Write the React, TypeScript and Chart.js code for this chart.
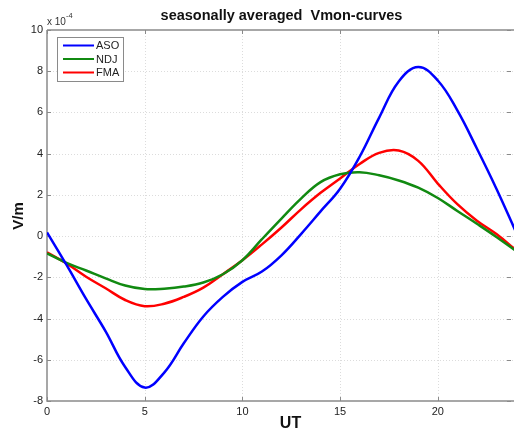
import React, { useEffect, useRef } from "react";
import { Chart, registerables } from "chart.js";

Chart.register(...registerables);

const hours = [0, 1, 2, 3, 4, 5, 6, 7, 8, 9, 10, 11, 12, 13, 14, 15, 16, 17, 18, 19, 20, 21, 22, 23, 24];
const aso = [0.18, -1.4, -3.05, -4.62, -6.35, -7.35, -6.62, -5.2, -3.9, -2.95, -2.22, -1.72, -0.93, 0.1, 1.2, 2.3, 3.85, 5.75, 7.5, 8.2, 7.55, 6.1, 4.25, 2.3, 0.2];
const ndj = [-0.84, -1.3, -1.67, -2.05, -2.4, -2.57, -2.55, -2.45, -2.25, -1.85, -1.17, -0.15, 0.85, 1.82, 2.62, 3.0, 3.1, 2.95, 2.7, 2.35, 1.85, 1.22, 0.6, -0.04, -0.72];
const fma = [-0.79, -1.33, -1.97, -2.53, -3.1, -3.4, -3.28, -2.95, -2.5, -1.85, -1.17, -0.4, 0.42, 1.3, 2.1, 2.8, 3.5, 4.04, 4.15, 3.65, 2.55, 1.55, 0.75, 0.1, -0.68];
const seriesNames = ["ASO", "NDJ", "FMA"];
const seriesColors = ["#0000ff", "#118a11", "#ff0000"];
const xTicks = [0, 5, 10, 15, 20];
const yTicks = [-8, -6, -4, -2, 0, 2, 4, 6, 8, 10];
const titleText = "seasonally averaged  Vmon-curves";
const xTitle = "UT";
const yTitle = "V/m";

const FONT = "'Liberation Sans', Arial, sans-serif";

const framePlugin = {
  id: "framePlugin",
  beforeDatasetsDraw(chart: any) {
    const { ctx, chartArea } = chart;
    const xs = chart.scales.x;
    const ys = chart.scales.y;
    const { left, right, top, bottom } = chartArea;
    ctx.save();
    ctx.strokeStyle = "#dcdcdc";
    ctx.lineWidth = 1;
    ctx.setLineDash([1, 2]);
    xTicks.forEach((t) => {
      if (t === 0) return;
      const px = Math.round(xs.getPixelForValue(t)) + 0.5;
      ctx.beginPath();
      ctx.moveTo(px, top);
      ctx.lineTo(px, bottom);
      ctx.stroke();
    });
    yTicks.forEach((t) => {
      if (t === -8 || t === 10) return;
      const py = Math.round(ys.getPixelForValue(t)) + 0.5;
      ctx.beginPath();
      ctx.moveTo(left, py);
      ctx.lineTo(right, py);
      ctx.stroke();
    });
    ctx.setLineDash([]);
    ctx.strokeStyle = "#8a8a8a";
    ctx.lineWidth = 1.5;
    ctx.beginPath();
    ctx.moveTo(left, top);
    ctx.lineTo(right, top);
    ctx.moveTo(left, top);
    ctx.lineTo(left, bottom);
    ctx.lineTo(right, bottom);
    ctx.stroke();
    ctx.lineWidth = 1;
    const tl = 4;
    xTicks.forEach((t) => {
      const px = Math.round(xs.getPixelForValue(t)) + 0.5;
      ctx.beginPath();
      ctx.moveTo(px, bottom);
      ctx.lineTo(px, bottom - tl);
      ctx.moveTo(px, top);
      ctx.lineTo(px, top + tl);
      ctx.stroke();
    });
    yTicks.forEach((t) => {
      const py = Math.round(ys.getPixelForValue(t)) + 0.5;
      ctx.beginPath();
      ctx.moveTo(left, py);
      ctx.lineTo(left + tl, py);
      ctx.moveTo(right - 3, py);
      ctx.lineTo(right - 3 - tl, py);
      ctx.stroke();
    });
    ctx.restore();
  },
  afterDraw(chart: any) {
    const { ctx, chartArea } = chart;
    const { left, right } = chartArea;
    ctx.save();
    ctx.fillStyle = "#111";
    ctx.font = `bold 14.5px ${FONT}`;
    ctx.textAlign = "center";
    ctx.textBaseline = "middle";
    ctx.fillText(titleText, (left + right) / 2 + 1, 16);
    ctx.font = `10px ${FONT}`;
    ctx.textAlign = "left";
    ctx.fillStyle = "#333";
    ctx.fillText("x 10", left, 22);
    ctx.font = `7.5px ${FONT}`;
    ctx.fillText("-4", left + 19, 16);
    ctx.fillStyle = "#111";
    ctx.font = `bold 16px ${FONT}`;
    ctx.textAlign = "center";
    ctx.fillText(xTitle, (left + right) / 2 + 10, 424);
    ctx.save();
    ctx.translate(19, 216);
    ctx.rotate(-Math.PI / 2);
    ctx.font = `bold 15px ${FONT}`;
    ctx.fillText(yTitle, 0, 0);
    ctx.restore();
    const bx = 57, by = 37, bw = 66, bh = 44;
    ctx.fillStyle = "#ffffff";
    ctx.fillRect(bx, by, bw, bh);
    ctx.strokeStyle = "#8a8a8a";
    ctx.lineWidth = 1;
    ctx.strokeRect(bx + 0.5, by + 0.5, bw, bh);
    ctx.font = `11px ${FONT}`;
    ctx.textAlign = "left";
    chart.data.datasets.forEach((ds: any, i: number) => {
      const y = by + 8.5 + i * 13.5;
      ctx.strokeStyle = ds.borderColor;
      ctx.lineWidth = 2;
      ctx.beginPath();
      ctx.moveTo(63, y);
      ctx.lineTo(94, y);
      ctx.stroke();
      ctx.fillStyle = "#222";
      ctx.fillText(ds.label, 96, y + 0.5);
    });
    ctx.restore();
  },
};

export default function App() {
  const ref = useRef<HTMLCanvasElement | null>(null);
  useEffect(() => {
    if (!ref.current) return;
    const series = [aso, ndj, fma];
    const chart = new Chart(ref.current, {
      type: "line",
      data: {
        datasets: series.map((s, i) => ({
          label: seriesNames[i],
          data: hours.map((h, j) => ({ x: h, y: s[j] })),
          borderColor: seriesColors[i],
          backgroundColor: seriesColors[i],
          borderWidth: 2.5,
          pointRadius: 0,
          tension: 0.4,
          fill: false,
        })),
      },
      options: {
        responsive: false,
        animation: false,
        devicePixelRatio: 1,
        layout: { padding: { top: 30, left: 0, right: 0, bottom: 0 } },
        plugins: {
          legend: { display: false },
          title: { display: false },
          tooltip: { enabled: false },
        },
        scales: {
          x: {
            type: "linear",
            min: 0,
            max: 23.9,
            afterBuildTicks: (scale: any) => {
              scale.ticks = xTicks.map((v) => ({ value: v }));
            },
            afterFit: (scale: any) => {
              scale.height = 31;
            },
            grid: { display: false, drawTicks: false },
            border: { display: false },
            ticks: {
              padding: 4,
              color: "#222",
              font: { size: 11, family: FONT },
              maxRotation: 0,
              autoSkip: false,
            },
          },
          y: {
            type: "linear",
            min: -8,
            max: 10,
            afterBuildTicks: (scale: any) => {
              scale.ticks = yTicks.map((v) => ({ value: v }));
            },
            afterFit: (scale: any) => {
              scale.width = 47;
            },
            grid: { display: false, drawTicks: false },
            border: { display: false },
            ticks: {
              padding: 4,
              color: "#222",
              font: { size: 11, family: FONT },
              autoSkip: false,
            },
          },
        },
      },
      plugins: [framePlugin],
    });
    return () => chart.destroy();
  }, []);
  return (
    <canvas
      ref={ref}
      width={514}
      height={432}
      style={{ position: "absolute", left: 0, top: 0, width: 514, height: 432, display: "block" }}
    />
  );
}
